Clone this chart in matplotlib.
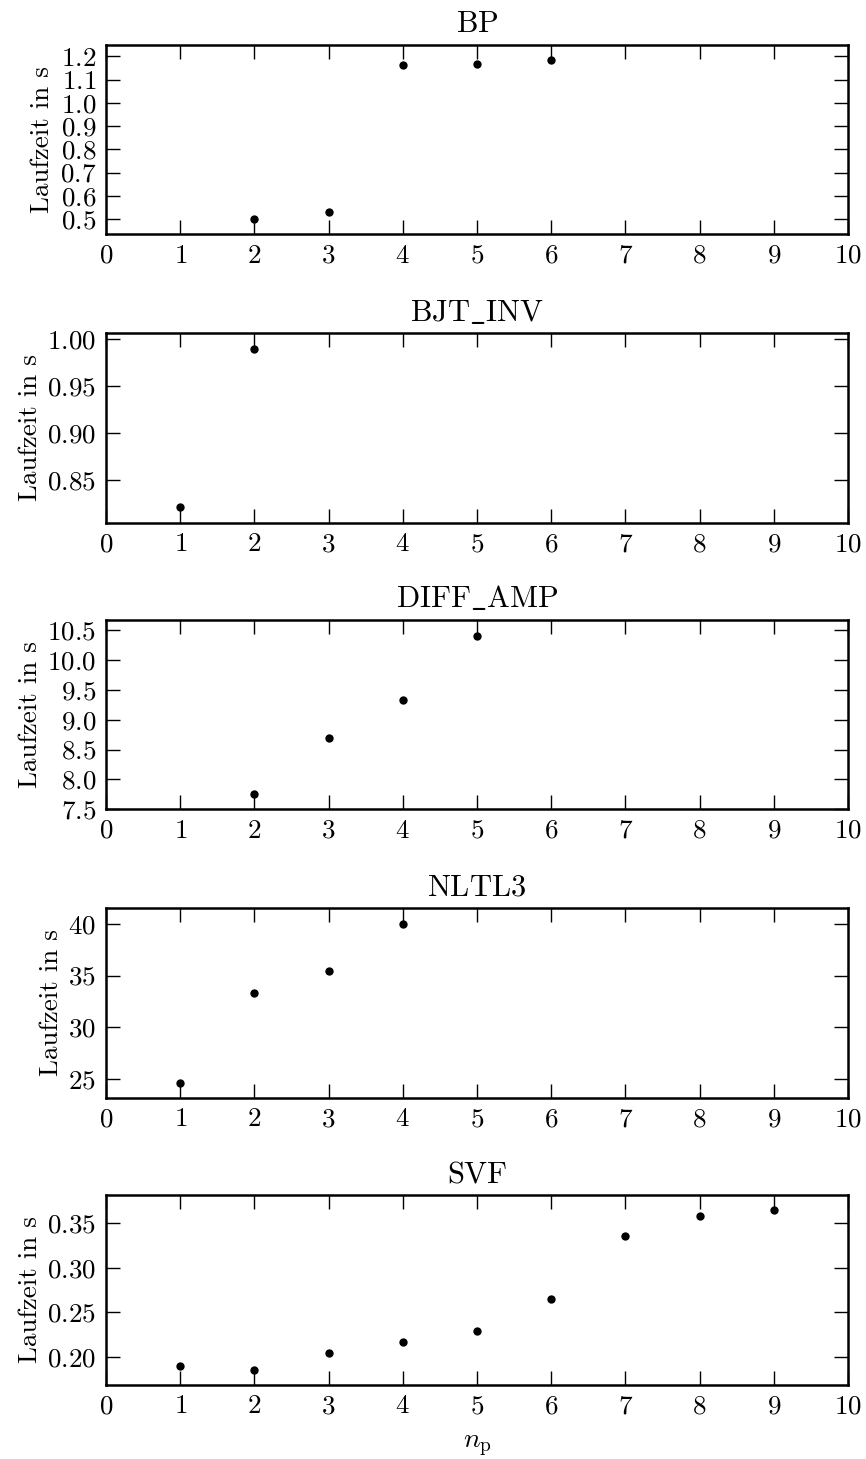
import matplotlib
matplotlib.use("Agg")
import matplotlib.pyplot as plt
from matplotlib.ticker import MultipleLocator

plt.rcParams.update({
    "font.family": "serif",
    "font.serif": ["cmr10"],
    "mathtext.fontset": "cm",
    "axes.unicode_minus": False,
    "axes.formatter.use_mathtext": True,
})

# Laufzeiten je Schaltung über der Anzahl paralleler Prozesse n_p
titles = [r"$\mathrm{BP}$", r"$\mathrm{BJT\_INV}$", r"$\mathrm{DIFF\_AMP}$",
          r"$\mathrm{NLTL3}$", r"$\mathrm{SVF}$"]

bp_n = [2, 3, 4, 5, 6]
bp_t = [0.500, 0.530, 1.161, 1.167, 1.183]

bjt_n = [1, 2]
bjt_t = [0.822, 0.990]

diff_n = [2, 3, 4, 5]
diff_t = [7.75, 8.69, 9.34, 10.41]

nltl_n = [1, 2, 3, 4]
nltl_t = [24.6, 33.35, 35.42, 40.0]

svf_n = [1, 2, 3, 4, 5, 6, 7, 8, 9]
svf_t = [0.190, 0.186, 0.205, 0.217, 0.229, 0.265, 0.335, 0.358, 0.364]

series = [(bp_n, bp_t), (bjt_n, bjt_t), (diff_n, diff_t),
          (nltl_n, nltl_t), (svf_n, svf_t)]
ylims = [(0.435, 1.25), (0.805, 1.0065), (7.5, 10.68), (23.2, 41.5), (0.169, 0.381)]
ysteps = [0.1, 0.05, 0.5, 5, 0.05]

W, H = 866, 1459
fig = plt.figure(figsize=(W / 100, H / 100), dpi=100)

left, right = 106, 848
tops = [44.7, 333.3, 619.7, 908.3, 1195.3]
ax_h = 189.5

for i, ((n, t), title, ylim, step) in enumerate(zip(series, titles, ylims, ysteps)):
    top = tops[i]
    ax = fig.add_axes([left / W, 1 - (top + ax_h) / H, (right - left) / W, ax_h / H])
    ax.plot(n, t, "o", color="black", markersize=6, markeredgewidth=0)
    ax.set_xlim(0, 10)
    ax.set_ylim(*ylim)
    ax.xaxis.set_major_locator(MultipleLocator(1))
    ax.yaxis.set_major_locator(MultipleLocator(step))
    ax.tick_params(direction="in", length=10, width=1, top=True, right=True,
                   labelsize=19.5, pad=7)
    for sp in ax.spines.values():
        sp.set_linewidth(1.8)
    ax.set_title(title, fontsize=22, pad=9)
    ax.set_ylabel("Laufzeit in s", fontsize=19.5)
    if i == len(series) - 1:
        ax.set_xlabel(r"$n_\mathrm{p}$", fontsize=20, labelpad=10)

fig.savefig("out.png", dpi=100)
